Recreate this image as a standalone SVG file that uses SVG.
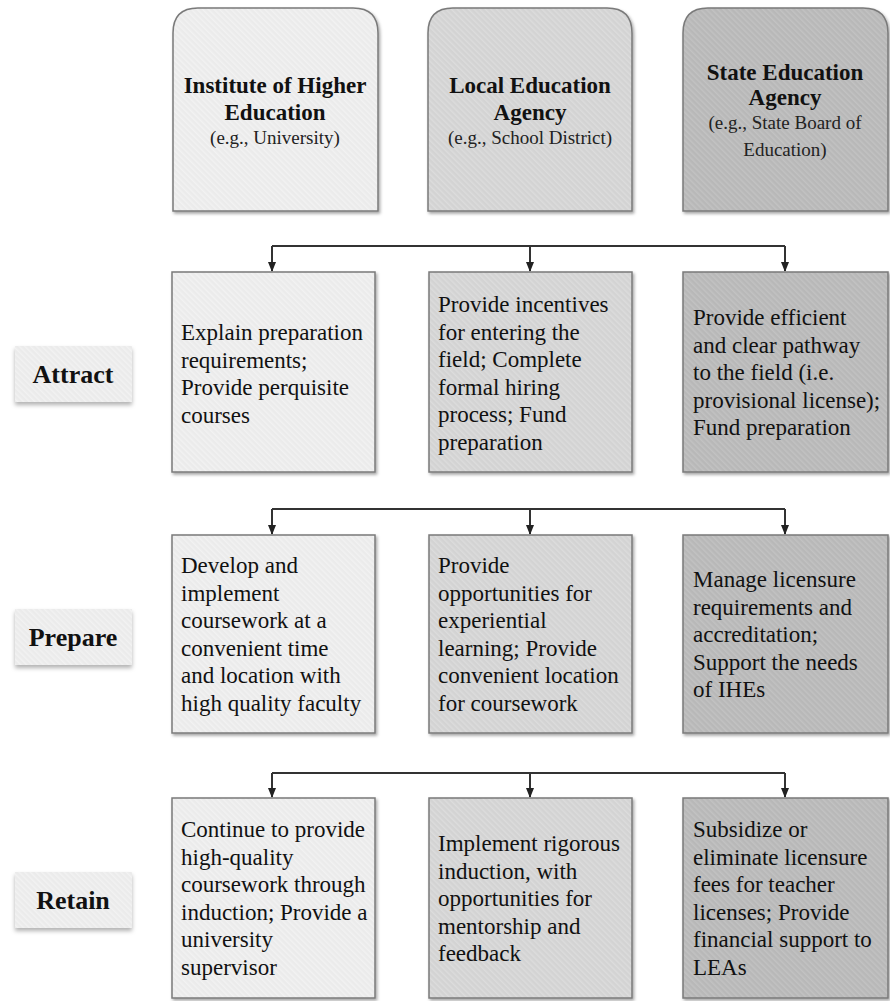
<svg xmlns="http://www.w3.org/2000/svg" width="890" height="1001" viewBox="0 0 890 1001">
<defs>
  <pattern id="h1" width="4" height="4" patternUnits="userSpaceOnUse" patternTransform="rotate(-45)">
    <rect width="4" height="4" fill="#ebebeb"/><rect width="1.5" height="4" fill="#f2f2f2"/>
  </pattern>
  <pattern id="h2" width="4" height="4" patternUnits="userSpaceOnUse" patternTransform="rotate(-45)">
    <rect width="4" height="4" fill="#d3d3d3"/><rect width="1.5" height="4" fill="#dcdcdc"/>
  </pattern>
  <pattern id="h3" width="4" height="4" patternUnits="userSpaceOnUse" patternTransform="rotate(-45)">
    <rect width="4" height="4" fill="#b8b8b8"/><rect width="1.5" height="4" fill="#c2c2c2"/>
  </pattern>
  <filter id="sh" x="-10%" y="-10%" width="125%" height="125%">
    <feDropShadow dx="1.5" dy="2" stdDeviation="1.5" flood-color="#000" flood-opacity="0.35"/>
  </filter>
  <filter id="lsh" x="-10%" y="-20%" width="125%" height="150%">
    <feDropShadow dx="0" dy="3" stdDeviation="2" flood-color="#000" flood-opacity="0.3"/>
  </filter>
  <marker id="arr" markerWidth="10" markerHeight="8" refX="9" refY="4" orient="auto" markerUnits="userSpaceOnUse">
    <path d="M0,0 L10,4 L0,8 Z" fill="#222"/>
  </marker>
  <style>
    .box { stroke: #7a7a7a; stroke-width: 1.5; filter: url(#sh); }
    .lab { fill: url(#h1); filter: url(#lsh); }
    .hd { font-family: "Liberation Serif", "Times New Roman", serif; font-weight: bold; font-size: 23px; fill: #111; text-anchor: middle; }
    .sub { font-family: "Liberation Serif", "Times New Roman", serif; font-size: 19px; fill: #222; text-anchor: middle; }
    .tx { font-family: "Liberation Serif", "Times New Roman", serif; font-size: 23px; fill: #111; }
    .lt { font-family: "Liberation Serif", "Times New Roman", serif; font-weight: bold; font-size: 26px; fill: #111; text-anchor: middle; }
    .con { fill: none; stroke: #333; stroke-width: 2; }
  </style>
</defs>
<rect width="890" height="1001" fill="#fff"/>

<g id="connectors">
  <path class="con" d="M272,246 H785"/>
  <path class="con" d="M272,246 V271" marker-end="url(#arr)"/>
  <path class="con" d="M530,246 V271" marker-end="url(#arr)"/>
  <path class="con" d="M785,246 V271" marker-end="url(#arr)"/>
  <path class="con" d="M272,509 H785"/>
  <path class="con" d="M272,509 V534" marker-end="url(#arr)"/>
  <path class="con" d="M530,509 V534" marker-end="url(#arr)"/>
  <path class="con" d="M785,509 V534" marker-end="url(#arr)"/>
  <path class="con" d="M272,773 H785"/>
  <path class="con" d="M272,773 V797" marker-end="url(#arr)"/>
  <path class="con" d="M530,773 V797" marker-end="url(#arr)"/>
  <path class="con" d="M785,773 V797" marker-end="url(#arr)"/>
</g>

<g id="hdr-ihe">
  <path class="box" fill="url(#h1)" d="M173,211 V33 Q173,8 198,8 H353 Q378,8 378,33 V211 Z"/>
  <text class="hd" x="275" y="93">Institute of Higher</text>
  <text class="hd" x="275" y="120">Education</text>
  <text class="sub" x="275" y="144">(e.g., University)</text>
</g>
<g id="hdr-lea">
  <path class="box" fill="url(#h2)" d="M428,211 V33 Q428,8 453,8 H607 Q632,8 632,33 V211 Z"/>
  <text class="hd" x="530" y="93">Local Education</text>
  <text class="hd" x="530" y="120">Agency</text>
  <text class="sub" x="530" y="144">(e.g., School District)</text>
</g>
<g id="hdr-sea">
  <path class="box" fill="url(#h3)" d="M683,211 V33 Q683,8 708,8 H863 Q888,8 888,33 V211 Z"/>
  <text class="hd" x="785" y="80">State Education</text>
  <text class="hd" x="785" y="105">Agency</text>
  <text class="sub" x="785" y="129">(e.g., State Board of</text>
  <text class="sub" x="785" y="156">Education)</text>
</g>

<g id="lbl-attract">
  <rect class="lab" x="15" y="346" width="117" height="56"/>
  <text class="lt" x="73" y="383">Attract</text>
</g>
<g id="lbl-prepare">
  <rect class="lab" x="15" y="609" width="117" height="56"/>
  <text class="lt" x="73" y="646">Prepare</text>
</g>
<g id="lbl-retain">
  <rect class="lab" x="15" y="872" width="117" height="56"/>
  <text class="lt" x="73" y="909">Retain</text>
</g>

<g id="attract-ihe">
  <rect class="box" fill="url(#h1)" x="172" y="272" width="203" height="200"/>
  <text class="tx" x="181" y="340">Explain preparation</text>
  <text class="tx" x="181" y="367.5">requirements;</text>
  <text class="tx" x="181" y="395">Provide perquisite</text>
  <text class="tx" x="181" y="422.5">courses</text>
</g>
<g id="attract-lea">
  <rect class="box" fill="url(#h2)" x="429" y="272" width="203" height="200"/>
  <text class="tx" x="438" y="312">Provide incentives</text>
  <text class="tx" x="438" y="339.5">for entering the</text>
  <text class="tx" x="438" y="367">field; Complete</text>
  <text class="tx" x="438" y="394.5">formal hiring</text>
  <text class="tx" x="438" y="422">process; Fund</text>
  <text class="tx" x="438" y="449.5">preparation</text>
</g>
<g id="attract-sea">
  <rect class="box" fill="url(#h3)" x="683" y="272" width="205" height="200"/>
  <text class="tx" x="693" y="325">Provide efficient</text>
  <text class="tx" x="693" y="352.5">and clear pathway</text>
  <text class="tx" x="693" y="380">to the field (i.e.</text>
  <text class="tx" x="693" y="407.5">provisional license);</text>
  <text class="tx" x="693" y="435">Fund preparation</text>
</g>

<g id="prepare-ihe">
  <rect class="box" fill="url(#h1)" x="172" y="535" width="203" height="198"/>
  <text class="tx" x="181" y="573">Develop and</text>
  <text class="tx" x="181" y="600.5">implement</text>
  <text class="tx" x="181" y="628">coursework at a</text>
  <text class="tx" x="181" y="655.5">convenient time</text>
  <text class="tx" x="181" y="683">and location with</text>
  <text class="tx" x="181" y="710.5">high quality faculty</text>
</g>
<g id="prepare-lea">
  <rect class="box" fill="url(#h2)" x="429" y="535" width="203" height="198"/>
  <text class="tx" x="438" y="573">Provide</text>
  <text class="tx" x="438" y="600.5">opportunities for</text>
  <text class="tx" x="438" y="628">experiential</text>
  <text class="tx" x="438" y="655.5">learning; Provide</text>
  <text class="tx" x="438" y="683">convenient location</text>
  <text class="tx" x="438" y="710.5">for coursework</text>
</g>
<g id="prepare-sea">
  <rect class="box" fill="url(#h3)" x="683" y="535" width="205" height="198"/>
  <text class="tx" x="693" y="587">Manage licensure</text>
  <text class="tx" x="693" y="614.5">requirements and</text>
  <text class="tx" x="693" y="642">accreditation;</text>
  <text class="tx" x="693" y="669.5">Support the needs</text>
  <text class="tx" x="693" y="697">of IHEs</text>
</g>

<g id="retain-ihe">
  <rect class="box" fill="url(#h1)" x="172" y="798" width="203" height="200"/>
  <text class="tx" x="181" y="837">Continue to provide</text>
  <text class="tx" x="181" y="864.5">high-quality</text>
  <text class="tx" x="181" y="892">coursework through</text>
  <text class="tx" x="181" y="919.5">induction; Provide a</text>
  <text class="tx" x="181" y="947">university</text>
  <text class="tx" x="181" y="974.5">supervisor</text>
</g>
<g id="retain-lea">
  <rect class="box" fill="url(#h2)" x="429" y="798" width="203" height="200"/>
  <text class="tx" x="438" y="851">Implement rigorous</text>
  <text class="tx" x="438" y="878.5">induction, with</text>
  <text class="tx" x="438" y="906">opportunities for</text>
  <text class="tx" x="438" y="933.5">mentorship and</text>
  <text class="tx" x="438" y="961">feedback</text>
</g>
<g id="retain-sea">
  <rect class="box" fill="url(#h3)" x="683" y="798" width="205" height="200"/>
  <text class="tx" x="693" y="837">Subsidize or</text>
  <text class="tx" x="693" y="864.5">eliminate licensure</text>
  <text class="tx" x="693" y="892">fees for teacher</text>
  <text class="tx" x="693" y="919.5">licenses; Provide</text>
  <text class="tx" x="693" y="947">financial support to</text>
  <text class="tx" x="693" y="974.5">LEAs</text>
</g>
</svg>
